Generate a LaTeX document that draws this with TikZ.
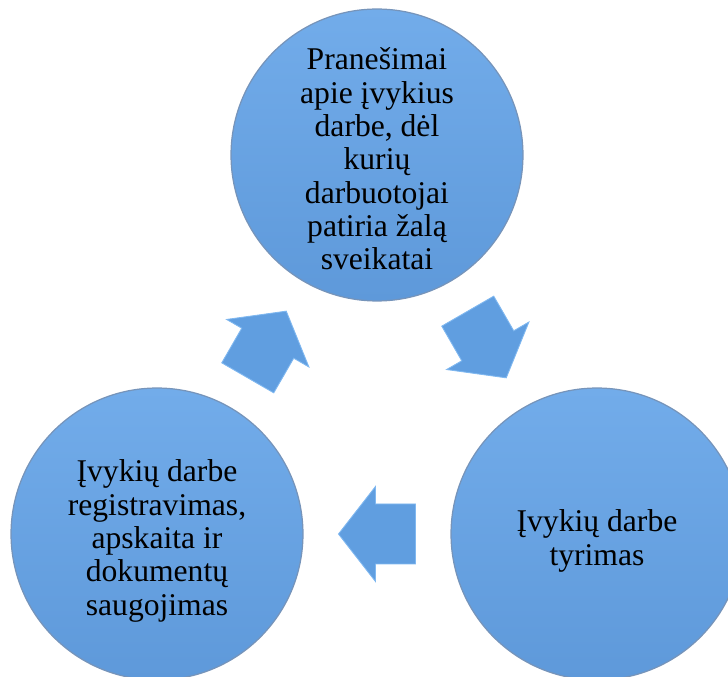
\documentclass[tikz,border=0pt]{standalone}
\usepackage{fontspec}
\setmainfont{Liberation Serif}
\usepackage{tikz}
\usetikzlibrary{calc}

\definecolor{ballTop}{RGB}{114,172,234}
\definecolor{ballBot}{RGB}{94,153,218}
\definecolor{ballRim}{RGB}{118,148,186}
\definecolor{arrFill}{RGB}{96,158,224}
\definecolor{arrEdge}{RGB}{128,184,240}

\begin{document}
\begin{tikzpicture}[x=0.02cm, y=0.02cm,
    bubble/.style={circle, minimum size=5.84cm, inner sep=0pt,
      top color=ballTop, bottom color=ballBot, draw=ballRim, line width=0.7pt},
    caption/.style={align=center, font=\fontsize{18}{19}\selectfont},
    blockarrow/.style={fill=arrFill, draw=arrEdge, line width=0.5pt}]
      \clip (0,0) rectangle (728,677);
      % the three stages
      \node[bubble] (report) at (377,522) {};
      \node[bubble] (probe) at (597,143) {};
      \node[bubble] (record) at (157,143) {};
      \node[caption] (t1) at ($(report)+(0,-4)$) {Pranešimai\\apie įvykius\\darbe, dėl\\kurių\\darbuotojai\\patiria žalą\\sveikatai};
      \node[caption] (t2) at ($(probe)+(0,-7)$) {Įvykių darbe\\tyrimas};
      \node[caption] (t3) at ($(record)+(0,-7)$) {Įvykių darbe\\registravimas,\\apskaita ir\\dokumentų\\saugojimas};
      % arrows between them
      \foreach \a/\b/\ang in {record/report/60, report/probe/-60, probe/record/180}
        \filldraw[blockarrow, shift={($(\a)!0.5!(\b)$)}, rotate=\ang]
          (-38.5,-30) -- (1.5,-30) -- (1.5,-47.5) -- (38.5,0)
          -- (1.5,47.5) -- (1.5,30) -- (-38.5,30) -- cycle;
    \end{tikzpicture}
\end{document}
